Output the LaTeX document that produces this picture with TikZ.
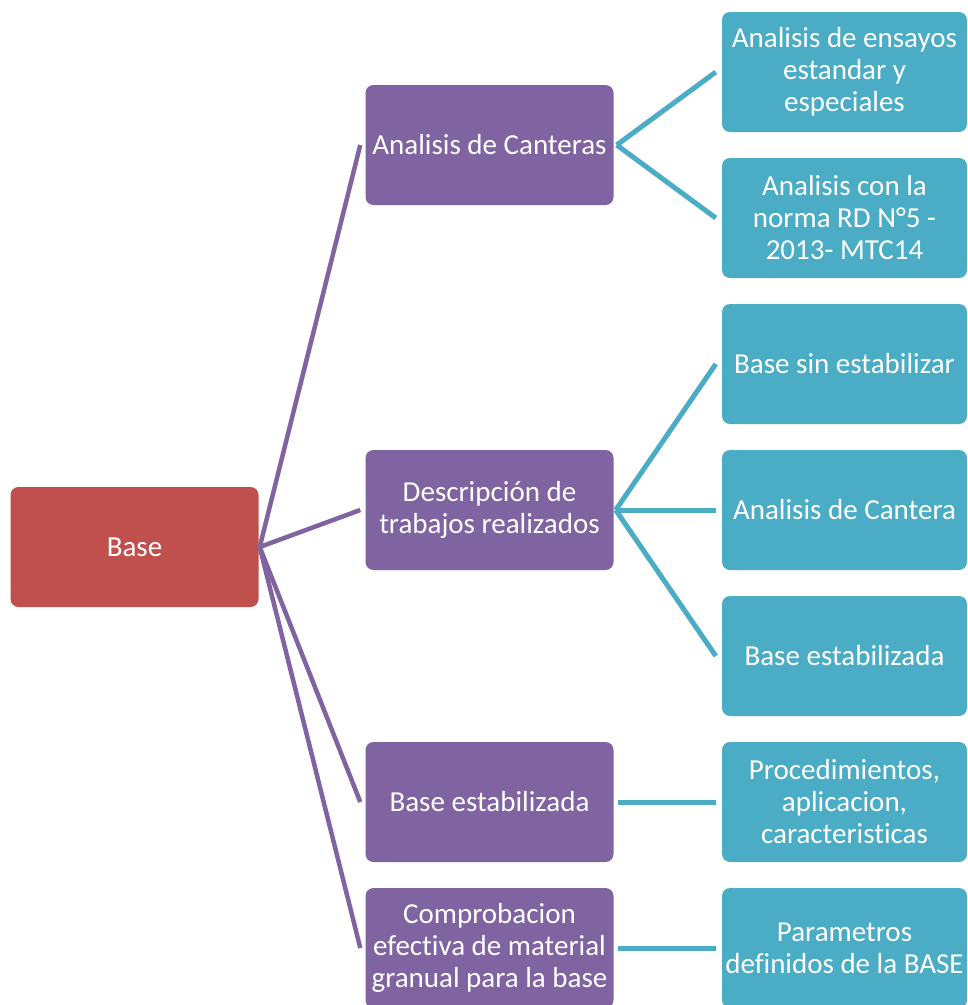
\documentclass[tikz,border=0pt]{standalone}
\usepackage{fontspec}
\setmainfont[Ligatures={NoCommon}]{Carlito}
\definecolor{rootred}{HTML}{C0504D}
\definecolor{midpurple}{HTML}{8064A2}
\definecolor{leafteal}{HTML}{4BACC6}
\begin{document}
\begin{tikzpicture}[x=1pt,y=-1pt,
  box/.style={rounded corners=8pt, minimum height=120pt, inner sep=1pt, text=white, align=center, font=\fontsize{29}{32}\selectfont},
  rootbox/.style={box, fill=rootred, minimum width=248pt},
  midbox/.style={box, fill=midpurple, minimum width=248pt},
  leafbox/.style={box, fill=leafteal, minimum width=245pt},
  plink/.style={draw=midpurple, line width=4.5pt},
  tlink/.style={draw=leafteal, line width=5pt}]
\clip (0,0) rectangle (968,1005);
\fill[white] (0,0) rectangle (968,1005);
% root
\node[rootbox] (root) at (134.5,547) {Base};
% middle level
\node[midbox] (m1) at (489.5,145) {Analisis de Canteras};
\node[midbox] (m2) at (489.5,510) {Descripción de\\trabajos realizados};
\node[midbox] (m3) at (489.5,802) {Base estabilizada};
\node[midbox] (m4) at (489.5,948) {Comprobacion\\efectiva de material\\granual para la base};
% leaves
\node[leafbox] (l1) at (844.5,72) {Analisis de ensayos\\estandar y\\especiales};
\node[leafbox] (l2) at (844.5,218) {Analisis con la\\norma RD N°5 -\\2013- MTC14};
\node[leafbox] (l3) at (844.5,364) {Base sin estabilizar};
\node[leafbox] (l4) at (844.5,510) {Analisis de Cantera};
\node[leafbox] (l5) at (844.5,656) {Base estabilizada};
\node[leafbox] (l6) at (844.5,802) {Procedimientos,\\aplicacion,\\caracteristicas};
\node[leafbox] (l7) at (844.5,948) {Parametros\\definidos de la BASE};
% connectors root -> middle
\coordinate (rs) at ([xshift=1pt]root.east);
\draw[plink] (rs) -- ([xshift=-5pt]m1.west);
\draw[plink] (rs) -- ([xshift=-5pt]m2.west);
\draw[plink] (rs) -- ([xshift=-5pt]m3.west);
\draw[plink] (rs) -- ([xshift=-5pt]m4.west);
% connectors middle -> leaves
\coordinate (s1) at ([xshift=3pt]m1.east);
\draw[tlink] (s1) -- ([xshift=-6pt]l1.west);
\draw[tlink] (s1) -- ([xshift=-6pt]l2.west);
\coordinate (s2) at ([xshift=2pt]m2.east);
\draw[tlink] (s2) -- ([xshift=-6pt]l3.west);
\draw[tlink] (s2) -- ([xshift=-6pt]l4.west);
\draw[tlink] (s2) -- ([xshift=-6pt]l5.west);
\draw[tlink] ([xshift=4pt]m3.east) -- ([xshift=-6pt]l6.west);
\draw[tlink] ([xshift=4pt]m4.east) -- ([xshift=-6pt]l7.west);
\end{tikzpicture}
\end{document}
